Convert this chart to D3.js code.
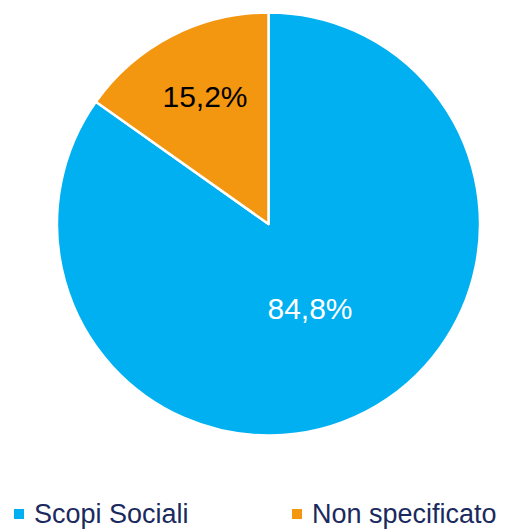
<!DOCTYPE html>
<html>
<head>
<meta charset="utf-8">
<script src="https://cdn.jsdelivr.net/npm/d3@7"></script>
<style>
html,body{margin:0;padding:0;background:#fff;}
svg{display:block;}
</style>
</head>
<body>
<svg id="chart" width="508" height="530"></svg>
<script>
const categories = ["Scopi Sociali", "Non specificato"];
const values = [84.8, 15.2];
const labels = ["84,8%", "15,2%"];
const colors = ["#00B0F0", "#F39610"];
const labelColors = ["#FFFFFF", "#000000"];

const svg = d3.select("#chart");
const cx = 268.5, cy = 224, r = 211.5;

const data = categories.map((c, i) => ({c, v: values[i], i}));
const arcs = d3.pie().sort(null).value(d => d.v)
  .startAngle(0).endAngle(2 * Math.PI)(data);

const arc = d3.arc().innerRadius(0).outerRadius(r);
const g = svg.append("g").attr("transform", `translate(${cx},${cy})`);

g.selectAll("path").data(arcs).join("path")
  .attr("d", arc)
  .attr("fill", d => colors[d.data.i])
  .attr("stroke", "#fff")
  .attr("stroke-width", 2.5)
  .attr("stroke-linejoin", "round");

// label offsets from the pie centre
const labelPos = [
  {dx: 41.5, dy: 84},
  {dx: -63.5, dy: -128}
];
g.selectAll("text.lbl").data(arcs).join("text")
  .attr("class", "lbl")
  .attr("x", d => labelPos[d.data.i].dx)
  .attr("y", d => labelPos[d.data.i].dy)
  .attr("text-anchor", "middle")
  .attr("dominant-baseline", "central")
  .attr("font-family", "'Liberation Sans', Arial, sans-serif")
  .attr("font-size", 30)
  .attr("fill", d => labelColors[d.data.i])
  .text(d => labels[d.data.i]);

// Legend
const legendX = [14, 292];
const lg = svg.append("g");
categories.forEach((c, i) => {
  lg.append("rect")
    .attr("x", legendX[i]).attr("y", 509)
    .attr("width", 10).attr("height", 10)
    .attr("fill", colors[i]);
  lg.append("text")
    .attr("x", legendX[i] + 20).attr("y", 523)
    .attr("font-family", "'Liberation Sans', Arial, sans-serif")
    .attr("font-size", 27)
    .attr("fill", "#1B2A5E")
    .text(c);
});
</script>
</body>
</html>
